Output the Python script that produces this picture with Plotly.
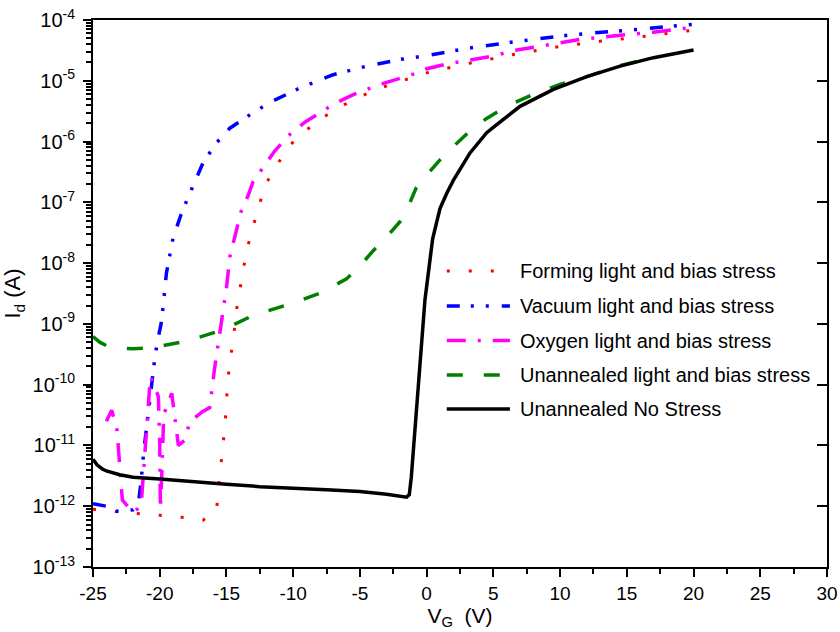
import plotly.graph_objects as go

# ---------------- data ----------------
names = [
    "Forming light and bias stress",
    "Vacuum light and bias stress",
    "Oxygen light and bias stress",
    "Unannealed light and bias stress",
    "Unannealed No Stress",
]

forming_v = [-25, -23.3, -21.7, -20, -18.4, -16.75, -15.75, -15.6, -15.45, -15.3, -15.1, -15.0,
             -14.9, -14.7, -14.45, -14.3, -14.05, -13.75, -13.45, -13.0, -12.55, -12.0, -11.05,
             -9.9, -8.1, -6.5, -4.9, -3.25, -1.6, 0, 1.6, 3.25, 6.5, 9.75, 13.1, 16.4, 20]
forming_i = [8.9e-13, 8.1e-13, 7.6e-13, 7.1e-13, 6.6e-13, 5.9e-13, 8.3e-13, 1.9e-12, 4.3e-12,
             1.0e-11, 2.2e-11, 5.2e-11, 1.2e-10, 2.7e-10, 6.3e-10, 1.45e-9, 3.3e-9, 7.6e-9,
             1.74e-8, 3.9e-8, 9.1e-8, 2.1e-7, 4.7e-7, 1.07e-6, 2.24e-6, 3.7e-6, 5.6e-6, 7.9e-6,
             1.05e-5, 1.35e-5, 1.62e-5, 1.95e-5, 2.7e-5, 3.6e-5, 4.5e-5, 5.4e-5, 6.8e-5]

vacuum_v = [-25, -24.5, -24, -23.25, -22, -21.6, -21.4, -21.2, -21.0, -20.8, -20.6, -20.4, -20.2,
            -19.9, -19.75, -19.5, -19.0, -18.4, -17.9, -16.75, -15.75, -14.75, -13.25, -11.75,
            -9.5, -7, -4.5, -2, 0, 3, 7, 11, 15.5, 20]
vacuum_i = [1.1e-12, 1.05e-12, 1.0e-12, 8.3e-13, 8.7e-13, 1.1e-12, 2.5e-12, 7.9e-12, 2.0e-11,
            4.0e-11, 1.05e-10, 2.4e-10, 4.8e-10, 1.0e-9, 1.9e-9, 6.8e-9, 2.6e-8, 6.3e-8, 1.17e-7,
            4.5e-7, 9.5e-7, 1.66e-6, 2.75e-6, 4.4e-6, 7.6e-6, 1.26e-5, 1.74e-5, 2.24e-5, 2.6e-5,
            3.4e-5, 4.5e-5, 5.75e-5, 6.9e-5, 8.5e-5]

oxygen_v = [-24.0, -23.6, -23.2, -23.0, -22.8, -22.0, -21.4, -21.2, -20.9, -20.7, -20.4, -20.1,
            -20.0, -19.95, -19.85, -19.7, -19.1, -18.6, -18.1, -17.75, -16.8, -16.25, -15.9,
            -15.55, -15.25, -15.0, -14.75, -14.25, -13.9, -13.4, -13, -12, -11.4, -10.4, -9.1,
            -8, -7, -5.5, -4.6, -3.5, -2, -1, 0, 1.4, 3.25, 4.75, 6.75, 8.1, 10, 11.5, 13.6,
            15, 17, 18.5, 20]
oxygen_i = [2.5e-11, 3.8e-11, 1.78e-11, 5.0e-12, 1.26e-12, 7.9e-13, 1.0e-12, 4.0e-12, 4.0e-11,
            1.35e-10, 1.0e-10, 6.3e-11, 1.0e-11, 8.9e-13, 3.2e-12, 3.2e-11, 7.2e-11, 1.0e-11,
            1.23e-11, 2.45e-11, 3.6e-11, 4.2e-11, 1.78e-10, 6.3e-10, 2.0e-9, 3.9e-9, 1.26e-8,
            3.5e-8, 7.1e-8, 1.26e-7, 2.2e-7, 4.5e-7, 6.9e-7, 1.23e-6, 2.1e-6, 2.95e-6, 4.1e-6,
            5.9e-6, 7.1e-6, 8.7e-6, 1.1e-5, 1.29e-5, 1.58e-5, 1.86e-5, 2.2e-5, 2.5e-5, 3.2e-5,
            3.55e-5, 4.2e-5, 4.8e-5, 5.25e-5, 5.75e-5, 6.3e-5, 6.9e-5, 7.6e-5]

unann_stress_v = [-25, -24.5, -24, -23, -22, -21, -20, -18, -16, -15, -13, -11, -10, -8, -6,
                  -5, -4, -3, -2, -1.2, -0.8, 0, 1, 2, 3.25, 4.5, 6, 8, 10, 12, 14.5, 17]
unann_stress_i = [6.2e-10, 5.0e-10, 4.4e-10, 4.0e-10, 3.9e-10, 4.0e-10, 4.3e-10, 5.2e-10,
                  7.1e-10, 8.5e-10, 1.38e-9, 1.9e-9, 2.2e-9, 3.2e-9, 5.5e-9, 9.0e-9, 1.6e-8,
                  2.7e-8, 4.8e-8, 1.05e-7, 1.7e-7, 2.8e-7, 5.0e-7, 8.3e-7, 1.5e-6, 2.4e-6,
                  3.8e-6, 6.0e-6, 8.7e-6, 1.17e-5, 1.78e-5, 2.4e-5]

unann_none_v = [-25, -24.7, -24.3, -24, -23, -22, -20, -17.5, -15, -12.5, -10, -7.5, -5, -3,
                -1.5, -1.3, -1.15, -1.0, -0.875, -0.5, -0.125, 0.45, 0.75, 1.0, 1.5, 2.0, 3.25,
                4.5, 5.25, 7, 9.5, 12, 14.5, 17, 20]
unann_none_i = [5.9e-12, 4.8e-12, 4.1e-12, 3.8e-12, 3.3e-12, 3.0e-12, 2.8e-12, 2.5e-12, 2.3e-12,
                2.1e-12, 1.95e-12, 1.86e-12, 1.74e-12, 1.58e-12, 1.41e-12, 1.55e-12, 3.0e-12,
                7.9e-12, 1.6e-11, 2.0e-10, 2.5e-9, 2.5e-8, 5.0e-8, 7.9e-8, 1.4e-7, 2.3e-7, 6.5e-7,
                1.4e-6, 1.9e-6, 3.8e-6, 7.2e-6, 1.17e-5, 1.74e-5, 2.4e-5, 3.2e-5]

x_tickvals = [-25, -20, -15, -10, -5, 0, 5, 10, 15, 20, 25, 30]
x_ticktext = ["-25", "-20", "-15", "-10", "-5", "0", "5", "10", "15", "20", "25", "30"]
y_tickvals = [1e-13, 1e-12, 1e-11, 1e-10, 1e-9, 1e-8, 1e-7, 1e-6, 1e-5, 1e-4]
y_ticktext = ["10<sup>-13</sup>", "10<sup>-12</sup>", "10<sup>-11</sup>", "10<sup>-10</sup>",
              "10<sup>-9</sup>", "10<sup>-8</sup>", "10<sup>-7</sup>", "10<sup>-6</sup>",
              "10<sup>-5</sup>", "10<sup>-4</sup>"]

# ---------------- styles ----------------
colors = ["#ff0000", "#0000ff", "#ff00ff", "#008000", "#000000"]
dashes = ["3px,19px", "13px,11px,3px,12px,3px,13px", "19px,12px,3px,12px", "16px,21px", "solid"]
widths = [3, 3.5, 3.5, 3.5, 3.5]

series = [
    (forming_v, forming_i),
    (vacuum_v, vacuum_i),
    (oxygen_v, oxygen_i),
    (unann_stress_v, unann_stress_i),
    (unann_none_v, unann_none_i),
]

FONT = "Liberation Sans, Arial, sans-serif"

fig = go.Figure()
for (xv, yv), nm, c, d, w in zip(series, names, colors, dashes, widths):
    fig.add_trace(go.Scatter(x=xv, y=yv, mode="lines", name=nm, showlegend=False,
                             line=dict(color=c, dash=d, width=w)))

# helper trace so the right-hand tick axis exists
fig.add_trace(go.Scatter(x=[None], y=[None], yaxis="y2", showlegend=False, hoverinfo="skip"))

# manual legend (long line samples like the original)
leg_y = [0.541, 0.477, 0.414, 0.351, 0.289]
for nm, c, d, w, ly in zip(names, colors, dashes, widths, leg_y):
    fig.add_shape(type="line", xref="paper", yref="paper", x0=0.482, x1=0.568, y0=ly, y1=ly,
                  line=dict(color=c, dash=d, width=w))
    fig.add_annotation(xref="paper", yref="paper", x=0.579, y=ly, text=nm, showarrow=False,
                       xanchor="left", yanchor="middle",
                       font=dict(family=FONT, size=20, color="black"))

fig.update_layout(
    width=840, height=632,
    margin=dict(l=93, r=13, t=20, b=65),
    paper_bgcolor="white", plot_bgcolor="white",
    font=dict(family=FONT, color="black"),
    showlegend=False,
    xaxis=dict(
        range=[-25, 30], tickmode="array", tickvals=x_tickvals, ticktext=x_ticktext,
        ticks="outside", ticklen=8, tickwidth=2, tickcolor="black",
        showline=True, linewidth=2, linecolor="black", mirror=True,
        showgrid=False, zeroline=False, automargin=False,
        tickfont=dict(family=FONT, size=19, color="black"),
        minor=dict(tickmode="linear", tick0=-25, dtick=2.5, ticks="outside", ticklen=5,
                   tickwidth=2, tickcolor="black", showgrid=False),
        title=dict(text="V<sub>G</sub>  (V)", font=dict(family=FONT, size=21, color="black"),
                   standoff=2),
    ),
    yaxis=dict(
        type="log", range=[-13, -4], tickmode="array", tickvals=y_tickvals, ticktext=y_ticktext,
        ticks="outside", ticklen=8, tickwidth=2, tickcolor="black",
        showline=True, linewidth=2, linecolor="black", mirror=True,
        showgrid=False, zeroline=False, automargin=False,
        tickfont=dict(family=FONT, size=20, color="black"),
        ticklabelstandoff=4,
        minor=dict(dtick="D1", ticks="outside", ticklen=5, tickwidth=1.5, tickcolor="black",
                   showgrid=False),
        title=dict(text="I<sub>d</sub> (A)", font=dict(family=FONT, size=22, color="black"),
                   standoff=6),
    ),
    yaxis2=dict(
        type="log", range=[-13, -4], overlaying="y", side="right", tickmode="array",
        tickvals=y_tickvals, ticks="inside", ticklen=10, tickwidth=2, tickcolor="black",
        showticklabels=False, showgrid=False, zeroline=False, showline=False,
        automargin=False,
    ),
)

fig.write_html(
    "out.html",
    config={"displayModeBar": False},
    post_script="document.body.style.margin='0';document.body.style.overflow='hidden';",
)
